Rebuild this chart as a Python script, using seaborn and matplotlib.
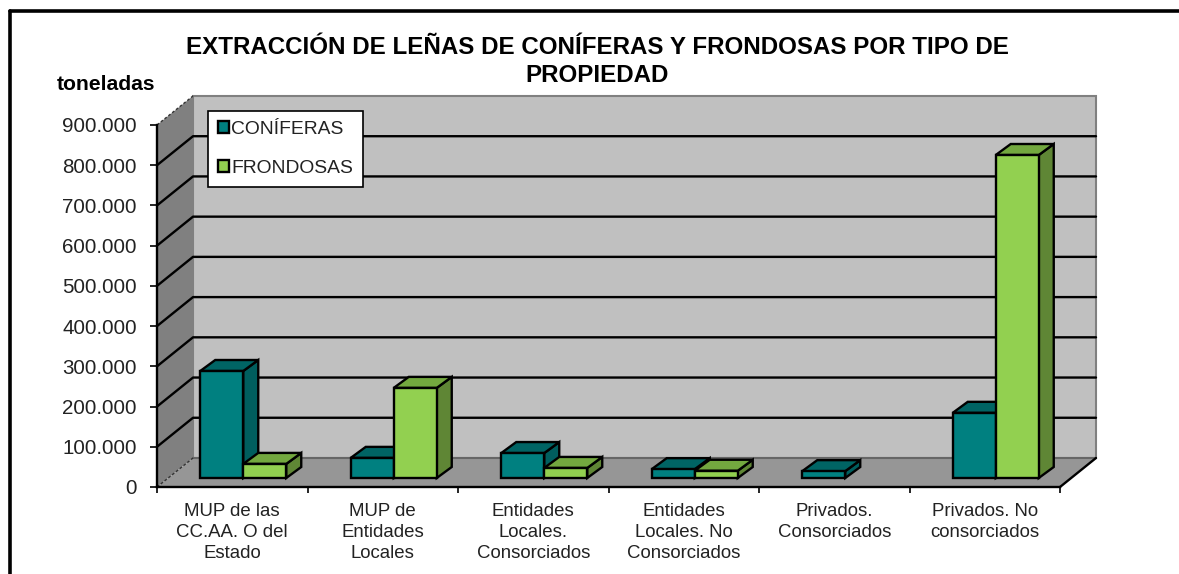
import matplotlib
matplotlib.use('Agg')
import matplotlib.pyplot as plt
from matplotlib.lines import Line2D
from matplotlib.patches import Polygon
from matplotlib.ticker import FuncFormatter
import pandas as pd
import seaborn as sns

categories = ['MUP de las\nCC.AA. O del\nEstado', 'MUP de\nEntidades\nLocales',
              'Entidades\nLocales.\nConsorciados', 'Entidades\nLocales. No\nConsorciados',
              'Privados.\nConsorciados', 'Privados. No\nconsorciados']
coniferas = [266000, 50000, 62000, 22000, 17000, 162000]
frondosas = [35000, 224000, 25000, 18000, 0, 803000]
series_names = ['CONÍFERAS', 'FRONDOSAS']
y_ticks = [0, 100000, 200000, 300000, 400000, 500000, 600000, 700000, 800000, 900000]

W, H = 1179, 574
PX_X = 150.5           # pixels per category
PX_Y = 40.2 / 100000   # pixels per tonne

sns.set_theme(style='white')
plt.rcParams['font.family'] = ['Liberation Sans', 'DejaVu Sans']

df = pd.DataFrame({
    'cat': categories * 2,
    'serie': [series_names[0]] * 6 + [series_names[1]] * 6,
    'val': coniferas + frondosas,
})

fig = plt.figure(figsize=(W / 100, H / 100), dpi=100, facecolor='white')
ax = fig.add_axes([157 / W, (H - 487) / H, 903 / W, 362 / H])
ax.patch.set_alpha(0)

sns.barplot(data=df, x='cat', y='val', hue='serie', hue_order=series_names,
            palette=['#008080', '#92D050'], width=86 / PX_X, saturation=1,
            edgecolor='black', linewidth=1.7, ax=ax, legend=False)
ax.set_xlim(-0.5, 5.5)
ax.set_ylim(0, 900000)

# depth of the fake 3D box, in data units
dx = 36 / PX_X
dy = 29 / PX_Y
# bars stand a bit inside the floor
in_x = 11 / PX_X
in_y = 9 / PX_Y
# depth of a bar
bx = 15 / PX_X
by = 11 / PX_Y

x0, x1 = -0.5, 5.5
top = 900000
kw = dict(clip_on=False, closed=True)
ax.add_patch(Polygon([(x0 + dx, dy), (x1 + dx, dy), (x1 + dx, top + dy), (x0 + dx, top + dy)],
                     fc='#C0C0C0', ec='#808080', lw=1.5, zorder=0.5, **kw))
ax.add_patch(Polygon([(x0, 0), (x0 + dx, dy), (x0 + dx, top + dy), (x0, top)],
                     fc='#808080', ec='none', zorder=0.6, **kw))
ax.add_patch(Polygon([(x0, 0), (x1, 0), (x1 + dx, dy), (x0 + dx, dy)],
                     fc='#969696', ec='none', zorder=0.6, **kw))
ax.plot([x0 + dx, x1 + dx], [dy, dy], color='#666666', lw=1.5, zorder=0.7, clip_on=False)

# gridlines on back and left walls
for v in y_ticks[1:-1]:
    ax.plot([x0, x0 + dx, x1 + dx], [v, v + dy, v + dy], color='black', lw=1.7,
            zorder=0.8, clip_on=False)
ax.plot([x0, x0 + dx], [0, dy], color='#333333', lw=1, ls=(0, (2, 1.5)), zorder=0.8, clip_on=False)
ax.plot([x0, x0 + dx], [top, top + dy], color='#333333', lw=1, ls=(0, (2, 1.5)), zorder=0.8, clip_on=False)
ax.plot([x1, x1 + dx], [0, dy], color='black', lw=1.7, zorder=0.9, clip_on=False)

# shift bars and add top + side faces
bars = []
for cont, side_col, top_col in zip(ax.containers, ['#005E5E', '#5F8635'], ['#006464', '#73A83F']):
    for b in cont:
        bars.append((b, side_col, top_col))
order = sorted(bars, key=lambda t: t[0].get_x())
z = 2
for b, side_col, top_col in order:
    h = b.get_height()
    if h <= 0:
        b.set_visible(False)
        continue
    b.set_x(b.get_x() + in_x)
    b.set_y(in_y)
    b.set_zorder(z + 1)
    b.set_clip_on(False)
    l = b.get_x()
    r = l + b.get_width()
    y1 = in_y + h
    ax.add_patch(Polygon([(r, in_y), (r + bx, in_y + by), (r + bx, y1 + by), (r, y1)],
                         fc=side_col, ec='black', lw=1.7, zorder=z, **kw))
    ax.add_patch(Polygon([(l, y1), (r, y1), (r + bx, y1 + by), (l + bx, y1 + by)],
                         fc=top_col, ec='black', lw=1.7, zorder=z, **kw))
    z += 2

sns.despine(ax=ax, top=True, right=True)
for s in ['left', 'bottom']:
    ax.spines[s].set_linewidth(1.7)
    ax.spines[s].set_color('black')
    ax.spines[s].set_zorder(1)

ax.set_yticks(y_ticks)
ax.yaxis.set_major_formatter(FuncFormatter(lambda v, p: f'{int(v):,}'.replace(',', '.')))
ax.tick_params(axis='y', length=5, width=1.2, color='black', pad=9.5, labelsize=14.8,
               labelcolor='#222222', left=True)

ax.set_xticks([i + 0.5 for i in range(-1, 6)])
ax.set_xticklabels([])
ax.set_xticks(range(6), categories, minor=True)
ax.tick_params(axis='x', which='major', length=4.5, width=1.2, color='black', bottom=True)
ax.tick_params(axis='x', which='minor', length=0, pad=11.5, labelsize=13.4, labelcolor='#222222')
for t in ax.get_xticklabels(minor=True):
    t.set_linespacing(1.31)
ax.set_xlabel('')
ax.set_ylabel('')

handles = [plt.Rectangle((0, 0), 1, 1, fc=c, ec='black', lw=1.7) for c in ['#008080', '#92D050']]
leg = fig.legend(handles, series_names, loc='upper left',
                 bbox_to_anchor=(208 / W, (H - 111) / H), bbox_transform=fig.transFigure,
                 frameon=True, fancybox=False, framealpha=1, edgecolor='black',
                 fontsize=13.9, handlelength=0.56, handleheight=0.56, handletextpad=0.12,
                 labelspacing=1.12, borderpad=0.52, borderaxespad=0, labelcolor='#222222')
leg.get_frame().set_linewidth(1.2)
leg.set_zorder(100)

fig.text(597 / W, 1 - 47 / H, 'EXTRACCIÓN DE LEÑAS DE CONÍFERAS Y FRONDOSAS POR TIPO DE',
         ha='center', va='center', fontsize=17.4, fontweight='bold', color='black')
fig.text(597 / W, 1 - 75 / H, 'PROPIEDAD', ha='center', va='center', fontsize=17.4,
         fontweight='bold', color='black')
fig.text(106 / W, 1 - 85 / H, 'toneladas', ha='center', va='center', fontsize=15.2,
         fontweight='bold', color='black')

# outer frame of the screenshot
fig.add_artist(Line2D([10 / W, 10 / W], [0, 1 - 11 / H], color='black', lw=2.6))
fig.add_artist(Line2D([10 / W, 1], [1 - 11 / H, 1 - 11 / H], color='black', lw=2.6))

fig.savefig('out.png', dpi=100)
